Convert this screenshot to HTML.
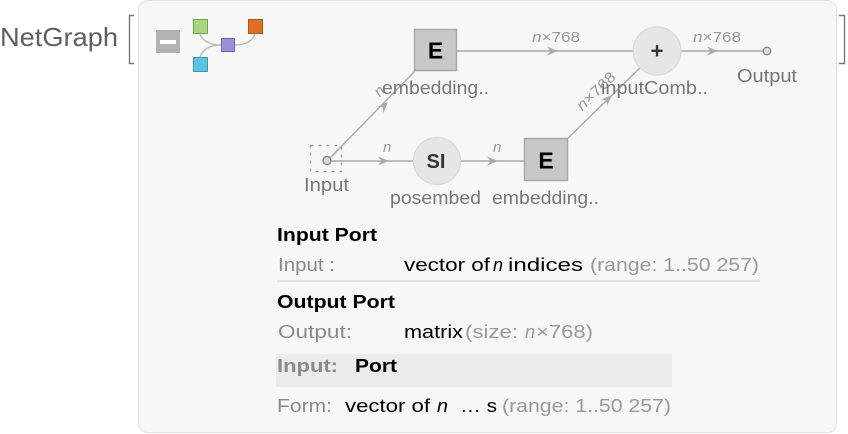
<!DOCTYPE html>
<html><head><meta charset="utf-8"><style>
html,body{margin:0;padding:0;background:#fff;width:848px;height:434px;overflow:hidden}
svg{display:block}
text{font-family:"Liberation Sans",sans-serif}
</style></head><body>
<svg width="848" height="434" viewBox="0 0 848 434" xmlns="http://www.w3.org/2000/svg">
<!-- header -->
<text x="0" y="46" font-size="26" fill="#5f5f5f" textLength="118" lengthAdjust="spacingAndGlyphs">NetGraph</text>
<path d="M134,15.5 H129.5 V63.5 H134" fill="none" stroke="#777" stroke-width="1.4"/>
<path d="M839,15.5 H844.5 V63.5 H839" fill="none" stroke="#777" stroke-width="1.4"/>
<!-- panel -->
<rect x="138.5" y="0.5" width="698" height="432" rx="9" fill="#f7f7f7" stroke="#e2e2e2" stroke-width="1"/>
<!-- minus button -->
<rect x="156" y="30" width="24" height="23" fill="#b3b3b3"/>
<rect x="160" y="40" width="16" height="4" fill="#fff"/>
<!-- icon -->
<path d="M200,34 C203,42 212,45 221,45" fill="none" stroke="#bdbdbd" stroke-width="1.5"/>
<path d="M255,34 C252,42 244,45 235,45" fill="none" stroke="#bdbdbd" stroke-width="1.5"/>
<path d="M200,57 C203,48 212,45 221,45" fill="none" stroke="#bdbdbd" stroke-width="1.5"/>
<rect x="193.5" y="19.5" width="14" height="14" fill="#a8d67f" stroke="#6fa84f" stroke-width="1"/>
<rect x="248.5" y="19.5" width="14" height="14" fill="#df6f22" stroke="#b0561a" stroke-width="1"/>
<rect x="221.5" y="38.5" width="13" height="13" fill="#9c8fdc" stroke="#6f60b0" stroke-width="1"/>
<rect x="193.5" y="57.5" width="14" height="14" fill="#5cc2e3" stroke="#3a98b8" stroke-width="1"/>

<!-- edges -->
<g stroke="#aaaaaa" stroke-width="1.4" fill="none">
<line x1="331" y1="161" x2="413" y2="161"/>
<line x1="460" y1="161" x2="524" y2="161"/>
<line x1="330" y1="158" x2="415" y2="71"/>
<line x1="457" y1="51" x2="633" y2="51"/>
<line x1="568" y1="138" x2="640" y2="68"/>
<line x1="681" y1="51" x2="763" y2="51"/>
</g>
<g fill="#aaaaaa">
<path d="M0,0 L-11,-4.5 L-7.5,0 L-11,4.5 Z" transform="translate(389,161)"/>
<path d="M0,0 L-11,-4.5 L-7.5,0 L-11,4.5 Z" transform="translate(498,161)"/>
<path d="M0,0 L-11,-4.5 L-7.5,0 L-11,4.5 Z" transform="translate(558,51)"/>
<path d="M0,0 L-11,-4.5 L-7.5,0 L-11,4.5 Z" transform="translate(718,51)"/>
<path d="M0,0 L-11,-4.5 L-7.5,0 L-11,4.5 Z" transform="translate(388,102) rotate(-45.6)"/>
<path d="M0,0 L-11,-4.5 L-7.5,0 L-11,4.5 Z" transform="translate(612,95) rotate(-44.2)"/>
</g>
<!-- edge labels -->
<g fill="#9a9a9a" font-size="15">
<text x="383" y="152" font-style="italic">n</text>
<text x="493" y="152" font-style="italic">n</text>
<text transform="translate(379,91) rotate(-45.6)" x="-4" y="5" font-style="italic">n</text>
<text x="532" y="42" font-size="15" textLength="48" lengthAdjust="spacingAndGlyphs"><tspan font-style="italic">n</tspan>×768</text>
<text x="693" y="42" font-size="15" textLength="48" lengthAdjust="spacingAndGlyphs"><tspan font-style="italic">n</tspan>×768</text>
<text transform="translate(596,91) rotate(-44.2)" x="-24" y="5" font-size="15" textLength="48" lengthAdjust="spacingAndGlyphs"><tspan font-style="italic">n</tspan>×768</text>
</g>

<!-- nodes -->
<rect x="414.5" y="29.5" width="42" height="41" fill="#c8c8c8" stroke="#a9a9a9" stroke-width="1.5"/>
<text x="435.5" y="58.5" font-size="23" font-weight="bold" fill="#000" text-anchor="middle">E</text>
<rect x="524.5" y="138.5" width="43" height="42" fill="#c8c8c8" stroke="#a9a9a9" stroke-width="1.5"/>
<text x="546" y="168.5" font-size="23" font-weight="bold" fill="#000" text-anchor="middle">E</text>

<circle cx="657" cy="51" r="24" fill="#e6e6e6" stroke="#d9d9d9" stroke-width="1.2"/>
<text x="657" y="58.5" font-size="22" font-weight="bold" fill="#333" text-anchor="middle">+</text>
<circle cx="437" cy="161" r="23.5" fill="#e6e6e6" stroke="#d9d9d9" stroke-width="1.2"/>
<text x="436" y="168" font-size="20" font-weight="bold" fill="#333" text-anchor="middle">SI</text>

<!-- input port -->
<rect x="310.5" y="145.5" width="31" height="26" fill="none" stroke="#999" stroke-width="1.2" stroke-dasharray="3,5"/>
<circle cx="327" cy="160.5" r="4" fill="#dcdcdc" stroke="#888" stroke-width="1.4"/>
<circle cx="767" cy="51" r="3.8" fill="#dcdcdc" stroke="#888" stroke-width="1.4"/>

<!-- node labels -->
<g fill="#777" font-size="18">
<text x="382" y="94" textLength="107" lengthAdjust="spacingAndGlyphs">embedding..</text>
<text x="601" y="94" textLength="107" lengthAdjust="spacingAndGlyphs">inputComb..</text>
<text x="737" y="82" textLength="60" lengthAdjust="spacingAndGlyphs">Output</text>
<text x="304" y="191" textLength="45" lengthAdjust="spacingAndGlyphs">Input</text>
<text x="390" y="204" textLength="91" lengthAdjust="spacingAndGlyphs">posembed</text>
<text x="492" y="204" textLength="107" lengthAdjust="spacingAndGlyphs">embedding..</text>
</g>

<!-- info section -->
<g font-size="18">
<text x="277" y="241" font-weight="bold" fill="#000" textLength="100" lengthAdjust="spacingAndGlyphs">Input Port</text>
<text x="278" y="271" fill="#8a8a8a" textLength="57" lengthAdjust="spacingAndGlyphs">Input :</text>
<text x="404" y="271" fill="#000" textLength="86" lengthAdjust="spacingAndGlyphs">vector of</text>
<text x="493" y="271" fill="#000" font-style="italic" textLength="10" lengthAdjust="spacingAndGlyphs">n</text>
<text x="508" y="271" fill="#000" textLength="75" lengthAdjust="spacingAndGlyphs">indices</text>
<text x="590" y="271" fill="#999" textLength="169" lengthAdjust="spacingAndGlyphs">(range: 1..50 257)</text>
<line x1="277" y1="281" x2="760" y2="281" stroke="#dcdcdc" stroke-width="1.5"/>
<text x="277" y="308" font-weight="bold" fill="#000" textLength="118" lengthAdjust="spacingAndGlyphs">Output Port</text>
<text x="278" y="338" fill="#8a8a8a" textLength="74" lengthAdjust="spacingAndGlyphs">Output:</text>
<text x="404" y="338" fill="#000" textLength="59" lengthAdjust="spacingAndGlyphs">matrix</text>
<text x="465" y="338" fill="#999" textLength="53" lengthAdjust="spacingAndGlyphs">(size:</text>
<text x="525" y="338" fill="#999" font-style="italic" textLength="10" lengthAdjust="spacingAndGlyphs">n</text>
<text x="536" y="338" fill="#999" textLength="57" lengthAdjust="spacingAndGlyphs">×768)</text>

<rect x="276" y="354" width="396" height="33" fill="#ebebeb"/>
<text x="277" y="372" font-weight="bold" fill="#8a8a8a" textLength="61" lengthAdjust="spacingAndGlyphs">Input:</text>
<text x="355" y="372" font-weight="bold" fill="#000" textLength="42" lengthAdjust="spacingAndGlyphs">Port</text>

<text x="277" y="412" fill="#8a8a8a" textLength="55" lengthAdjust="spacingAndGlyphs">Form:</text>
<text x="345" y="412" fill="#000" textLength="85" lengthAdjust="spacingAndGlyphs">vector of</text>
<text x="437" y="412" fill="#000" font-style="italic" textLength="11" lengthAdjust="spacingAndGlyphs">n</text>
<text x="460" y="412" fill="#000" textLength="37" lengthAdjust="spacingAndGlyphs">… s</text>
<text x="502" y="412" fill="#999" textLength="169" lengthAdjust="spacingAndGlyphs">(range: 1..50 257)</text>
</g>
</svg>
</body></html>
